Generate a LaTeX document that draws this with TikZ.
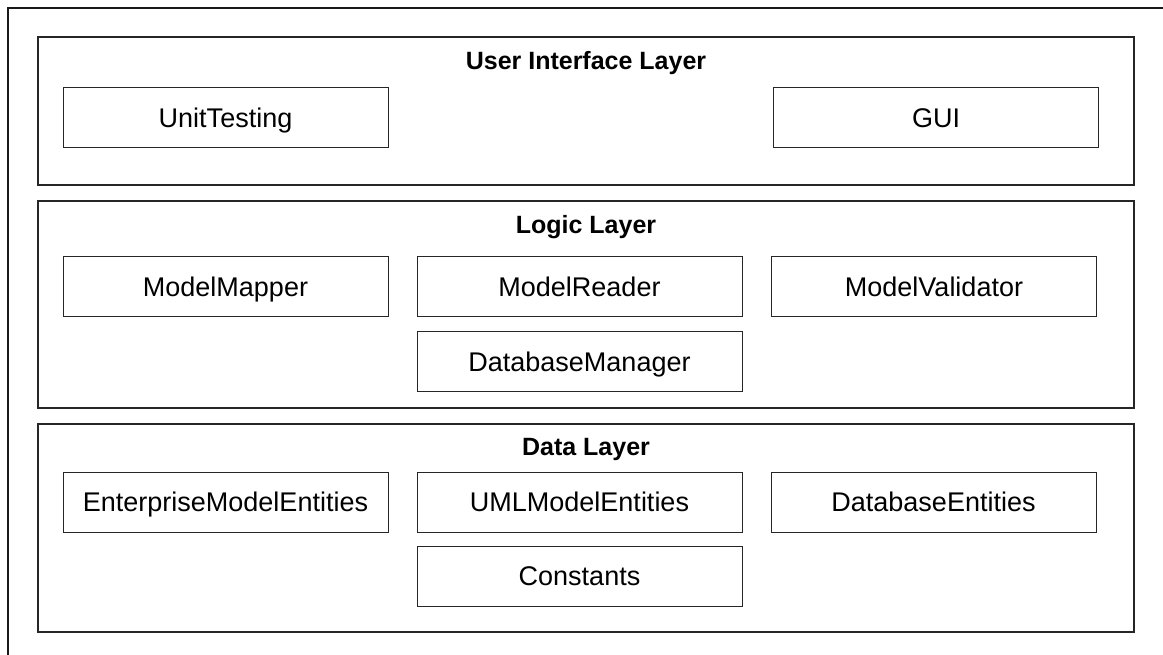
\documentclass[tikz,border=0pt]{standalone}
\usepackage{fontspec}
\setmainfont{Liberation Sans}
\begin{document}
\begin{tikzpicture}[x=1pt,y=-1pt,
  layerbox/.style={draw=black!85,line width=1.3pt},
  layertitle/.style={font=\fontsize{25}{30}\selectfont\bfseries,text height=17.9pt,text depth=0pt,inner sep=0pt,anchor=center},
  compbox/.style={draw=black!85,line width=1pt,minimum width=325pt,minimum height=60pt,inner sep=0pt,
    font=\fontsize{27}{32}\selectfont,text height=19.3pt,text depth=0pt}]
\useasboundingbox (0,0) rectangle (1163,655);
% outer frame (top and left edges)
\draw[line width=1.3pt,draw=black!90] (1163,8) -- (8,8) -- (8,655);

% layers
\draw[layerbox] (38,37) rectangle (1134,185);
\draw[layerbox] (38,201) rectangle (1134,408);
\draw[layerbox] (38,424) rectangle (1134,632);

\node[layertitle] (uit) at (586,61) {User Interface Layer};
\node[layertitle] (lgt) at (586,225) {Logic Layer};
\node[layertitle] (dat) at (586,447) {Data Layer};

% user interface layer
\node[compbox] (unit) at (225.5,118) {UnitTesting};
\node[compbox] (gui) at (936,118) {GUI};

% logic layer
\node[compbox] (mapper) at (225.5,287) {ModelMapper};
\node[compbox] (reader) at (579.5,287) {ModelReader};
\node[compbox] (valid) at (934,287) {ModelValidator};
\node[compbox] (dbman) at (579.5,361.5) {DatabaseManager};

% data layer
\node[compbox] (ent) at (225.5,502) {EnterpriseModelEntities};
\node[compbox] (uml) at (579.5,502) {UMLModelEntities};
\node[compbox] (dbent) at (933.5,502) {DatabaseEntities};
\node[compbox] (const) at (579.5,576) {Constants};
\end{tikzpicture}
\end{document}
